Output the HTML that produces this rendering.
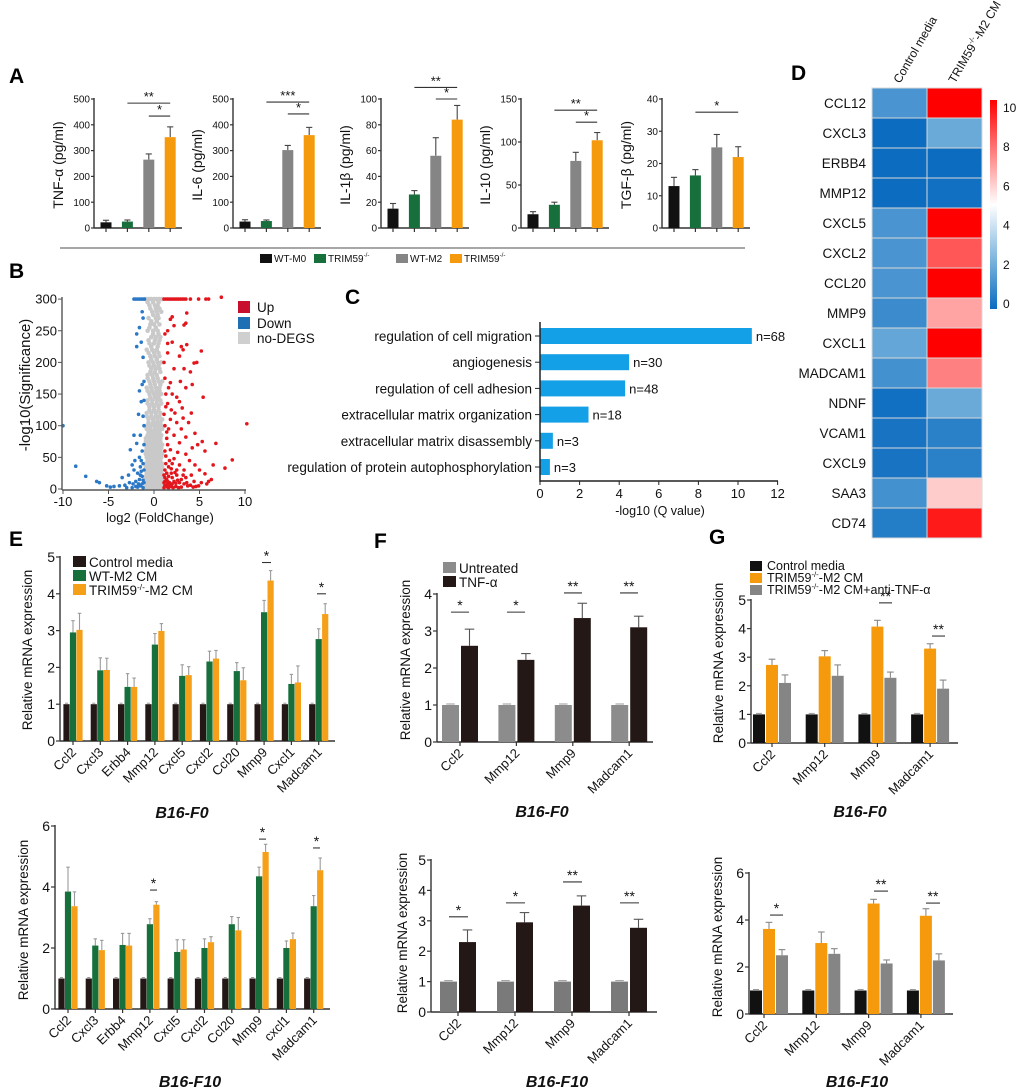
<!DOCTYPE html>
<html><head><meta charset="utf-8"><style>
html,body{margin:0;padding:0;background:#fff;}
svg{display:block;font-family:"Liberation Sans",Arial,sans-serif;}
</style></head><body>
<svg id="fig" width="1020" height="1092" viewBox="0 0 1020 1092" xmlns="http://www.w3.org/2000/svg">
<defs><linearGradient id="cbar" x1="0" y1="0" x2="0" y2="1"><stop offset="0" stop-color="#ff0000"/><stop offset="0.5" stop-color="#ffffff"/><stop offset="0.8" stop-color="#6aaad9"/><stop offset="1" stop-color="#0b6cc0"/></linearGradient></defs>
<g font-weight="bold" font-size="21" fill="#000">
<text x="9" y="83">A</text>
<text x="9" y="278">B</text>
<text x="345" y="304">C</text>
<text x="791" y="80">D</text>
<text x="9" y="546">E</text>
<text x="374" y="548">F</text>
<text x="709" y="544">G</text>
</g>
</svg>
<script>
// ---------- DATA ----------
const aTNF=[22,25,265,352], aTNFerr=[8,6,22,40];
const aIL6=[25,27,302,360], aIL6err=[7,4,18,30];
const aIL1b=[15,26,56,84], aIL1berr=[4,3,14,11];
const aIL10=[16,27,78,102], aIL10err=[3,3,10,9];
const aTGF=[13,16.3,25,22], aTGFerr=[2.7,1.8,4,3.2];
const aGroups=['WT-M0','TRIM59-/- -M0','WT-M2','TRIM59-/- -M2'];

const eCats=['Ccl2','Cxcl3','Erbb4','Mmp12','Cxcl5','Cxcl2','Ccl20','Mmp9','Cxcl1','Madcam1'];
const eCats2=['Ccl2','Cxcl3','Erbb4','Mmp12','Cxcl5','Cxcl2','Ccl20','Mmp9','cxcl1','Madcam1'];
const eF0ctrl=[1,1,1,1,1,1,1,1,1,1];
const eF0wt=[2.95,1.92,1.47,2.62,1.77,2.16,1.9,3.5,1.55,2.77];
const eF0wtErr=[0.32,0.34,0.36,0.3,0.3,0.28,0.23,0.32,0.26,0.28];
const eF0ko=[3.02,1.93,1.47,2.99,1.79,2.24,1.65,4.36,1.59,3.45];
const eF0koErr=[0.45,0.32,0.24,0.2,0.23,0.22,0.34,0.27,0.45,0.28];
const eF10ctrl=[1,1,1,1,1,1,1,1,1,1];
const eF10wt=[3.85,2.08,2.1,2.78,1.87,2.0,2.78,4.35,2.0,3.37];
const eF10wtErr=[0.8,0.22,0.38,0.18,0.4,0.3,0.25,0.3,0.23,0.35];
const eF10ko=[3.37,1.93,2.08,3.42,1.95,2.19,2.58,5.15,2.29,4.55];
const eF10koErr=[0.47,0.32,0.4,0.1,0.32,0.18,0.42,0.25,0.2,0.4];

const fCats=['Ccl2','Mmp12','Mmp9','Madcam1'];
const fF0un=[1,1,1,1], fF0tnf=[2.6,2.22,3.35,3.1], fF0tnfErr=[0.45,0.17,0.4,0.3];
const fF10un=[1,1,1,1], fF10tnf=[2.3,2.95,3.5,2.77], fF10tnfErr=[0.4,0.32,0.32,0.28];

const gF0ctrl=[1,1,1,1], gF0ko=[2.73,3.03,4.07,3.3], gF0koErr=[0.2,0.2,0.22,0.17];
const gF0anti=[2.1,2.35,2.28,1.9], gF0antiErr=[0.28,0.38,0.2,0.3];
const gF10ctrl=[1,1,1,1], gF10ko=[3.62,3.02,4.7,4.18], gF10koErr=[0.28,0.47,0.18,0.3];
const gF10anti=[2.5,2.56,2.15,2.28], gF10antiErr=[0.24,0.22,0.15,0.28];

const goTerms=['regulation of cell migration','angiogenesis','regulation of cell adhesion','extracellular matrix organization','extracellular matrix disassembly','regulation of protein autophosphorylation'];
const goQ=[10.7,4.5,4.3,2.45,0.65,0.5];
const goN=[68,30,48,18,3,3];

const hmGenes=['CCL12','CXCL3','ERBB4','MMP12','CXCL5','CXCL2','CCL20','MMP9','CXCL1','MADCAM1','NDNF','VCAM1','CXCL9','SAA3','CD74'];
const hmControl=[2,0,0,0,2,2,2,1.5,2.8,1.8,0.2,0.4,0.4,1.8,0.8];
const hmTrim=[10,3,0,0.2,10,8.3,10,6.8,10,7.5,3,1,1,6,9.5];
const cbTicks=[0,2,4,6,8,10];

const volUp=[[1.1,300],[1.3,300],[1.5,300],[1.7,300],[1.9,300],[2.1,300],[2.3,300],[2.5,300],[2.7,300],[2.9,300],[3.1,300],[3.3,300],[3.5,300],[4.0,300],[4.9,300],[5.7,300],[6.0,300],[7.4,303],
[2.0,272],[1.8,268],[3.6,278],[2.2,258],[3.5,262],[3.3,259],[1.5,250],[1.2,245],[3.0,225],[3.6,228],[1.5,230],[2.0,232],[3.2,220],[2.8,210],[5.2,218],[4.7,200],[4.4,199],[1.5,215],[2.2,190],[3.3,190],[4.0,185],[1.2,175],[1.8,168],[2.9,170],[4.2,165],[3.5,160],[1.3,150],[2.0,150],[2.5,145],[5.4,145],[1.5,135],[2.8,138],[3.1,128],[1.9,125],[4.1,120],[3.2,112],[1.1,118],[2.5,105],[3.8,105],[10.2,103],[1.6,95],[3.0,95],[2.2,85],[4.5,88],[1.4,80],[3.5,82],[2.8,73],[5.3,75],[6.8,72],[4.2,65],[1.8,62],[2.6,58],[4.8,70],[5.6,60],[3.5,55],[1.3,52],[2.2,48],[8.6,46],[3.9,45],[6.5,38],[2.8,38],[4.5,38],[7.8,33],[5.0,30],[1.6,35],[3.3,30],[1.9,25],[2.5,22],[4.1,22],[5.6,24],[6.3,15],[3.5,18],[1.2,18],[1.5,12],[2.2,12],[2.8,10],[3.3,8],[4.0,6],[4.6,4],[4.9,5],[5.2,10],[5.8,8],[6.0,12],[1.3,5],[1.8,6],[2.4,4],[3.0,3],[3.7,5],[1.1,2],[1.6,2],[2.1,2],[2.7,2],[4.3,3],[1.4,25],[2.0,40],[1.7,45],[1.2,60],[1.5,70],[1.2,100],[1.3,130],[1.6,160],[1.1,200],[1.8,110],[2.3,120],[1.4,90],[1.2,30],[1.5,8],[2.5,30],[3.0,15],[2.0,18],[1.1,10],[1.3,40],[1.2,12],[1.6,20],[2.0,8],[2.6,14],[3.2,22],[1.9,32],[1.4,15],[1.7,10],[2.3,26],[1.1,22],[1.2,6],[1.5,3],[1.9,4],[2.4,9],[3.6,10],[4.4,12]];
const volDown=[[-2.2,300],[-2.0,300],[-1.8,300],[-1.6,300],[-1.4,300],[-1.2,300],[-1.05,300],[-1.3,280],[-1.2,270],[-1.6,255],[-1.9,245],[-1.4,232],[-1.9,225],[-1.2,208],[-1.1,170],[-1.3,165],[-1.6,155],[-1.1,140],[-1.4,138],[-1.7,118],[-1.2,115],[-1.1,100],[-2.2,85],[-1.5,85],[-1.9,72],[-2.6,62],[-1.3,60],[-1.6,50],[-2.1,45],[-1.2,40],[-2.4,38],[-1.5,35],[-2.2,30],[-1.8,25],[-2.8,22],[-3.5,18],[-8.6,36],[-10,100],[-7.5,20],[-6.3,12],[-6.0,10],[-5.2,5],[-4.8,3],[-4.4,4],[-3.8,5],[-3.2,6],[-2.7,10],[-2.3,8],[-2.0,12],[-1.6,15],[-1.3,20],[-1.1,10],[-1.5,5],[-1.8,3],[-1.2,2],[-2.4,2],[-3.0,2],[-1.1,30],[-1.4,45],[-1.1,70],[-1.3,8],[-1.7,8],[-1.2,14],[-1.5,22],[-2.0,4],[-1.4,28]];
const volGreyRows=[[300,[-0.9,-0.6,-0.3,0,0.3,0.6,0.9]],[290,[-0.5,0.1,0.4]],[280,[-0.2,0.3,0.8]],[270,[-0.6,0.2,0.5]],[260,[-0.4,0,0.6]],[250,[-0.7,-0.1,0.4]],[240,[-0.3,0.2,0.7]],[230,[-0.5,0,0.5]],[220,[-0.8,-0.2,0.3]],[210,[-0.4,0.1,0.6]],[200,[-0.6,-0.1,0.4,0.8]],[190,[-0.3,0.2,0.6]],[180,[-0.7,-0.2,0.3]],[170,[-0.5,0,0.5,0.9]],[160,[-0.8,-0.3,0.2,0.6]],[150,[-0.5,0,0.4,0.8]],[140,[-0.7,-0.2,0.3,0.7]],[130,[-0.5,0,0.5]],[120,[-0.8,-0.3,0.2,0.7]],[110,[-0.6,-0.1,0.4,0.9]],[100,[-0.8,-0.4,0,0.4,0.8]],[90,[-0.6,-0.2,0.2,0.6]],[80,[-0.9,-0.5,-0.1,0.3,0.7]],[70,[-0.7,-0.3,0.1,0.5,0.9]],[60,[-0.9,-0.5,-0.1,0.3,0.7]],[50,[-0.8,-0.4,0,0.4,0.8]],[40,[-0.9,-0.5,-0.2,0.1,0.5,0.9]],[30,[-0.8,-0.4,0,0.4,0.8]],[20,[-0.9,-0.6,-0.3,0,0.3,0.6,0.9]],[10,[-0.8,-0.5,-0.2,0.1,0.4,0.7]],[3,[-0.9,-0.6,-0.3,0,0.3,0.6,0.9]]];
const volGreyRows2=[[295,[-0.7,-0.1,0.5]],[285,[-0.4,0.2,0.6]],[275,[-0.1,0.4]],[265,[-0.3,0.3]],[255,[-0.5,0.2]],[245,[-0.1,0.5]],[235,[-0.6,0.1,0.6]],[225,[-0.3,0.4]],[215,[-0.6,0,0.5]],[205,[-0.3,0.3]],[195,[-0.5,0,0.5]],[185,[-0.4,0.1,0.7]],[175,[-0.7,-0.1,0.4]],[165,[-0.4,0.1,0.7]],[155,[-0.7,-0.2,0.3,0.6]],[145,[-0.4,0.1,0.5]],[135,[-0.7,-0.2,0.3,0.8]],[125,[-0.5,0,0.5]],[115,[-0.8,-0.3,0.2,0.6]],[105,[-0.6,-0.1,0.3,0.7]],[95,[-0.8,-0.4,0.1,0.5,0.9]],[85,[-0.7,-0.3,0.1,0.5,0.8]],[75,[-0.9,-0.5,-0.1,0.3,0.7]],[65,[-0.8,-0.4,0,0.4,0.8]],[55,[-0.9,-0.6,-0.2,0.2,0.6,0.9]],[45,[-0.7,-0.3,0,0.3,0.7]],[35,[-0.9,-0.6,-0.2,0.2,0.6,0.9]],[25,[-0.8,-0.5,-0.1,0.2,0.5,0.8]],[15,[-0.9,-0.6,-0.3,0,0.3,0.6,0.9]],[6,[-0.8,-0.5,-0.2,0.1,0.4,0.7,0.95]]];

// ---------- HELPERS ----------
const NS='http://www.w3.org/2000/svg';
const svg=document.getElementById('fig');
function mk(tag,attrs,name,parent){
  const el=document.createElementNS(NS,tag);
  for(const k in attrs) el.setAttribute(k,attrs[k]);
  
  
  (parent||svg).appendChild(el);
  return el;
}
function txt(x,y,s,attrs,name,parent){
  const t=mk('text',Object.assign({x:x,y:y},attrs||{}),name,parent);
  t.textContent=s;
  return t;
}
function koText(x,y,pre,post,attrs,name,parent){
  const t=mk('text',Object.assign({x:x,y:y},attrs||{}),name,parent);
  t.appendChild(document.createTextNode(pre));
  const s=document.createElementNS(NS,'tspan');
  s.setAttribute('dy','-5');s.setAttribute('font-size','0.62em');s.textContent='-/-';
  t.appendChild(s);
  const s2=document.createElementNS(NS,'tspan');
  s2.setAttribute('dy','5');s2.textContent=post;
  t.appendChild(s2);
  return t;
}

function barChart(c){
  const g=mk('g',{},c.name);
  const sy=v=>c.y0-(v/c.max)*(c.y0-c.yTop);
  mk('line',{x1:c.ax,y1:c.yTop-1,x2:c.ax,y2:c.y0,stroke:'#333','stroke-width':1.4},'y-axis',g);
  mk('line',{x1:c.ax,y1:c.y0,x2:c.xEnd,y2:c.y0,stroke:'#333','stroke-width':1.4},'x-axis',g);
  c.ticks.forEach(t=>{
    mk('line',{x1:c.ax-c.tl,y1:sy(t),x2:c.ax,y2:sy(t),stroke:'#333','stroke-width':1.2},'y-tick',g);
    txt(c.ax-c.tl-1,sy(t)+c.tf*0.36,String(t),{'font-size':c.tf,'text-anchor':'end',fill:'#111'},'y-tick-label',g);
  });
  c.series.forEach((vals,s)=>{
    vals.forEach((v,i)=>{
      const cx=c.first+i*c.sp+c.off[s];
      const col=c.colorFn?c.colorFn(s,i):c.colors[s];
      const top=sy(v);
      const e=c.errs[s]?c.errs[s][i]:0;
      if(e>0){
        mk('line',{x1:cx,y1:top,x2:cx,y2:sy(v+e),stroke:c.errCol,'stroke-width':1.1},'error-bar',g);
        mk('line',{x1:cx-c.bw*0.28,y1:sy(v+e),x2:cx+c.bw*0.28,y2:sy(v+e),stroke:c.errCol,'stroke-width':1.1},'error-cap',g);
      } else {
        mk('line',{x1:cx-c.bw*0.25,y1:top-1,x2:cx+c.bw*0.25,y2:top-1,stroke:'#999','stroke-width':1},'error-cap',g);
      }
      mk('rect',{x:cx-c.bw/2,y:top,width:c.bw,height:c.y0-top,fill:col},'bar-'+(c.cats?c.cats[i]:i)+'-s'+s,g);
    });
  });
  const tickXs=c.tickXs||c.cats.map((_,i)=>c.first+i*c.sp+(c.tickOff||0));
  tickXs.forEach((x,i)=>{
    mk('line',{x1:x,y1:c.y0,x2:x,y2:c.y0+4,stroke:'#333','stroke-width':1.2},'x-tick',g);
    if(c.cats){
      const ly=c.y0+12;
      txt(x+4,ly,c.cats[i],{'font-size':c.cf,'text-anchor':'end',fill:'#111',transform:'rotate(-45 '+(x+4)+' '+ly+')'},'x-tick-label',g);
    }
  });
  (c.sig||[]).forEach(sg=>{
    const y=sy(sg.v);
    mk('line',{x1:sg.x1,y1:y,x2:sg.x2,y2:y,stroke:'#333','stroke-width':1.1},'significance-line',g);
    txt((sg.x1+sg.x2)/2,y-2,sg.t,{'font-size':c.sf||13,'text-anchor':'middle',fill:'#111'},'significance-stars',g);
  });
  txt(c.ylx,c.yly,c.ylabel,{'font-size':c.yf,'text-anchor':'middle',fill:'#111',transform:'rotate(-90 '+c.ylx+' '+c.yly+')'},'y-axis-title',g);
  if(c.title) txt(c.tx,c.ty,c.title,{'font-size':16,'font-weight':'bold','font-style':'italic','text-anchor':'middle',fill:'#111'},'cell-line-title',g);
  return g;
}

// ---------- PANEL A ----------
const aColors=['#111111','#17703c','#858585','#f59a0c'];
const aDefs=[
 {ax:94,vals:aTNF,err:aTNFerr,max:500,step:100,lab:'TNF-\u03b1  (pg/ml)',sig:[[1,3,484,'**'],[2,3,434,'*']]},
 {ax:233,vals:aIL6,err:aIL6err,max:500,step:100,lab:'IL-6 (pg/ml)',sig:[[1,3,488,'***'],[2,3,442,'*']]},
 {ax:381,vals:aIL1b,err:aIL1berr,max:100,step:20,lab:'IL-1\u03b2  (pg/ml)',sig:[[1,3,109,'**'],[2,3,100,'*']]},
 {ax:521,vals:aIL10,err:aIL10err,max:150,step:50,lab:'IL-10 (pg/ml)',sig:[[1,3,137,'**'],[2,3,123,'*']]},
 {ax:662,vals:aTGF,err:aTGFerr,max:40,step:10,lab:'TGF-\u03b2  (pg/ml)',sig:[[1,3,35.9,'*']]}
];
aDefs.forEach((d,k)=>{
  const ticks=[];for(let t=0;t<=d.max;t+=d.step)ticks.push(t);
  const first=d.ax+12, sp=21.4;
  barChart({name:'cytokine-chart-'+k,ax:d.ax,xEnd:d.ax+88,y0:228,yTop:99,max:d.max,ticks:ticks,tl:3,tf:10,
    series:[d.vals],errs:[d.err],colorFn:(s,i)=>aColors[i],errCol:'#444',first:first,sp:sp,off:[0],bw:11,
    tickXs:d.vals.map((_,i)=>first+i*sp),
    sig:d.sig.map(s=>({x1:first+s[0]*sp,x2:first+s[1]*sp,v:s[2],t:s[3]})),sf:13,
    ylabel:d.lab,ylx:d.ax-31,yly:165,yf:14});
});
mk('line',{x1:60,y1:248,x2:745,y2:248,stroke:'#8a8a8a','stroke-width':1.5},'panel-a-divider');
const aLegX=[260,314,396,450];
aGroups.forEach((gname,i)=>{
  mk('rect',{x:aLegX[i],y:254,width:12,height:9,fill:aColors[i]},'legend-swatch');
  if(gname.indexOf('TRIM')===0) koText(aLegX[i]+14,262,'TRIM59',gname.slice(13),{'font-size':10,fill:'#111'},'legend-entry');
  else txt(aLegX[i]+14,262,gname,{'font-size':10,fill:'#111'},'legend-entry');
});

// ---------- PANEL B (volcano) ----------
(function(){
  const g=mk('g',{},'volcano-plot');
  const sx=v=>154+9.1*v, sy=v=>489-0.633*v;
  volGreyRows.concat(volGreyRows2).forEach(r=>r[1].forEach(fc=>{
    mk('circle',{cx:sx(fc),cy:sy(r[0]),r:2.3,fill:'#c9c9c9'},'point-no-deg',g);
  }));
  volDown.forEach(p=>{ mk('circle',{cx:sx(p[0]),cy:sy(p[1]),r:1.8,fill:'#2a78c6'},'point-down',g); });
  volUp.forEach(p=>{ mk('circle',{cx:sx(p[0]),cy:sy(p[1]),r:1.8,fill:'#e3161e'},'point-up',g); });
  mk('line',{x1:62,y1:297,x2:62,y2:490,stroke:'#555','stroke-width':1.4},'y-axis',g);
  mk('line',{x1:62,y1:490,x2:246,y2:490,stroke:'#555','stroke-width':1.4},'x-axis',g);
  for(let t=0;t<=300;t+=50){
    mk('line',{x1:58,y1:sy(t),x2:62,y2:sy(t),stroke:'#555'},'y-tick',g);
    txt(57,sy(t)+4.5,String(t),{'font-size':13,'text-anchor':'end',fill:'#111'},'y-tick-label',g);
  }
  for(let t=-10;t<=10;t+=5){
    mk('line',{x1:sx(t),y1:490,x2:sx(t),y2:494,stroke:'#555'},'x-tick',g);
    txt(sx(t),506,String(t),{'font-size':13,'text-anchor':'middle',fill:'#111'},'x-tick-label',g);
  }
  txt(160,522,'log2 (FoldChange)',{'font-size':13,'text-anchor':'middle',fill:'#111'},'x-axis-title',g);
  txt(30,385,'-log10(Significance)',{'font-size':15,'text-anchor':'middle',fill:'#111',transform:'rotate(-90 30 385)'},'y-axis-title',g);
  [['Up','#c8102e',307],['Down','#1f6fb5',323],['no-DEGS','#cfcfcf',338]].forEach(l=>{
    mk('rect',{x:238,y:l[2]-6,width:12,height:12,fill:l[1]},'legend-swatch',g);
    txt(257,l[2]+5,l[0],{'font-size':13.5,fill:'#111'},'legend-entry',g);
  });
})();

// ---------- PANEL C (GO bars) ----------
(function(){
  const g=mk('g',{},'go-enrichment-chart');
  const sx=v=>540+19.8*v;
  goTerms.forEach((t,i)=>{
    const cy=336+i*26.2;
    mk('rect',{x:540,y:cy-8,width:sx(goQ[i])-540,height:16,fill:'#13a0e6'},'bar-'+i,g);
    mk('line',{x1:535,y1:cy,x2:540,y2:cy,stroke:'#222'},'y-tick',g);
    txt(532,cy+5,t,{'font-size':13.5,'text-anchor':'end',fill:'#111'},'category-label',g);
    txt(sx(goQ[i])+4,cy+5,'n='+goN[i],{'font-size':13,fill:'#111'},'count-label',g);
  });
  mk('line',{x1:540,y1:322,x2:540,y2:482,stroke:'#222','stroke-width':1.5},'y-axis',g);
  mk('line',{x1:540,y1:481,x2:778,y2:481,stroke:'#222','stroke-width':1.5},'x-axis',g);
  for(let t=0;t<=12;t+=2){
    mk('line',{x1:sx(t),y1:481,x2:sx(t),y2:485,stroke:'#222'},'x-tick',g);
    txt(sx(t),498,String(t),{'font-size':13,'text-anchor':'middle',fill:'#111'},'x-tick-label',g);
  }
  txt(660,515,'-log10 (Q value)',{'font-size':12.5,'text-anchor':'middle',fill:'#111'},'x-axis-title',g);
})();

// ---------- PANEL D (heatmap) ----------
function hmColor(v){
  const lerp=(a,b,t)=>a.map((x,i)=>Math.round(x+(b[i]-x)*t));
  let c;
  if(v<=3) c=lerp([11,108,192],[106,170,217],v/3);
  else if(v<=5) c=lerp([106,170,217],[255,255,255],(v-3)/2);
  else c=lerp([255,255,255],[255,0,0],(v-5)/5);
  return 'rgb('+c.join(',')+')';
}
(function(){
  const g=mk('g',{},'heatmap');
  hmGenes.forEach((gn,i)=>{
    const y=88+i*30;
    mk('rect',{x:872,y:y,width:55,height:30,fill:hmColor(hmControl[i]),stroke:'#d8d8d8','stroke-width':1},'cell-control-'+gn,g);
    mk('rect',{x:927,y:y,width:55,height:30,fill:hmColor(hmTrim[i]),stroke:'#d8d8d8','stroke-width':1},'cell-trim59-'+gn,g);
    txt(866,y+20,gn,{'font-size':13.5,'text-anchor':'end',fill:'#111'},'row-label',g);
  });
  txt(900,84,'Control media',{'font-size':12,fill:'#111',transform:'rotate(-60 900 84)'},'column-label',g);
  koText(955,84,'TRIM59','-M2 CM',{'font-size':12,fill:'#111',transform:'rotate(-60 955 84)'},'column-label',g);
  mk('rect',{x:990,y:100,width:7,height:209,fill:'url(#cbar)'},'colorbar',g);
  cbTicks.forEach(t=>{
    txt(1003,303-t*19.6+5,String(t),{'font-size':12,fill:'#111'},'colorbar-label',g);
  });
})();

// ---------- PANEL E ----------
const eColors=['#231815','#17703c','#f6a01a'];
barChart({name:'e-b16f0-chart',ax:60,xEnd:335,y0:741,yTop:557,max:5,ticks:[0,1,2,3,4,5],tl:4,tf:14,
  series:[eF0ctrl,eF0wt,eF0ko],errs:[null,eF0wtErr,eF0koErr],colors:eColors,errCol:'#9a9a9a',
  first:73,sp:27.3,off:[-6.5,0,6.5],bw:6.2,cats:eCats,cf:13,
  sig:[{x1:262,x2:271,v:4.85,t:'*'},{x1:317,x2:326,v:4.0,t:'*'}],sf:14,
  ylabel:'Relative mRNA expression',ylx:32,yly:650,yf:13.5,title:'B16-F0',tx:182,ty:818});
[['Control media',562],['WT-M2 CM',576],['TRIM59',590]].forEach((l,i)=>{
  mk('rect',{x:73,y:l[1]-6,width:13,height:11,fill:eColors[i]},'legend-swatch');
  if(i===2) koText(89,l[1]+5,'TRIM59','-M2 CM',{'font-size':13.5,fill:'#111'},'legend-entry');
  else txt(89,l[1]+5,l[0],{'font-size':13.5,fill:'#111'},'legend-entry');
});
barChart({name:'e-b16f10-chart',ax:55,xEnd:330,y0:1009,yTop:826,max:6,ticks:[0,2,4,6],tl:4,tf:14,
  series:[eF10ctrl,eF10wt,eF10ko],errs:[null,eF10wtErr,eF10koErr],colors:eColors,errCol:'#9a9a9a',
  first:68,sp:27.3,off:[-6.5,0,6.5],bw:6.2,cats:eCats2,cf:13,
  sig:[{x1:150,x2:157,v:3.9,t:'*'},{x1:259,x2:266,v:5.57,t:'*'},{x1:313,x2:320,v:5.28,t:'*'}],sf:14,
  ylabel:'Relative mRNA expression',ylx:28,yly:920,yf:13.5,title:'B16-F10',tx:190,ty:1087});

// ---------- PANEL F ----------
const fColors=['#8c8c8c','#231815'];
barChart({name:'f-b16f0-chart',ax:437,xEnd:653,y0:742,yTop:594,max:4,ticks:[0,1,2,3,4],tl:4,tf:14,
  series:[fF0un,fF0tnf],errs:[null,fF0tnfErr],colors:fColors,errCol:'#555',
  first:460,sp:56.4,off:[-9.5,9.5],bw:17,cats:fCats,cf:13,
  sig:[{x1:451,x2:469,v:3.51,t:'*'},{x1:507,x2:525,v:3.51,t:'*'},{x1:564,x2:582,v:4.03,t:'**'},{x1:620,x2:638,v:4.03,t:'**'}],sf:14,
  ylabel:'Relative mRNA expression',ylx:410,yly:660,yf:13.5,title:'B16-F0',tx:542,ty:817});
[['Untreated',568],['TNF-\u03b1',582]].forEach((l,i)=>{
  mk('rect',{x:443,y:l[1]-6,width:13,height:11,fill:fColors[i]},'legend-swatch');
  txt(459,l[1]+5,l[0],{'font-size':13.5,fill:'#111'},'legend-entry');
});
barChart({name:'f-b16f10-chart',ax:431,xEnd:657,y0:1012,yTop:860,max:5,ticks:[0,1,2,3,4,5],tl:4,tf:14,
  series:[fF10un,fF10tnf],errs:[null,fF10tnfErr],colors:['#7a7a7a','#231815'],errCol:'#555',
  first:458,sp:57,off:[-9.5,9.5],bw:17,cats:fCats,cf:13,
  sig:[{x1:449,x2:468,v:3.13,t:'*'},{x1:506,x2:525,v:3.59,t:'*'},{x1:563,x2:582,v:4.28,t:'**'},{x1:620,x2:639,v:3.59,t:'**'}],sf:14,
  ylabel:'Relative mRNA expression',ylx:407,yly:933,yf:13.5,title:'B16-F10',tx:557,ty:1087});

// ---------- PANEL G ----------
const gColors=['#111111','#f59a0c','#858585'];
barChart({name:'g-b16f0-chart',ax:751,xEnd:958,y0:743,yTop:600,max:5,ticks:[0,1,2,3,4,5],tl:4,tf:14,
  series:[gF0ctrl,gF0ko,gF0anti],errs:[null,gF0koErr,gF0antiErr],colors:gColors,errCol:'#888',
  first:772,sp:52.7,off:[-13,0,13],bw:12,cats:fCats,cf:13,
  sig:[{x1:879,x2:892,v:4.9,t:'**'},{x1:932,x2:945,v:3.74,t:'**'}],sf:14,
  ylabel:'Relative mRNA expression',ylx:723,yly:663,yf:13.5,title:'B16-F0',tx:860,ty:817});
[['Control media',566],['',578],['',590]].forEach((l,i)=>{
  mk('rect',{x:750,y:l[1]-5,width:12,height:10,fill:gColors[i]},'legend-swatch');
  if(i===0) txt(767,l[1]+4,l[0],{'font-size':12.5,fill:'#111'},'legend-entry');
  else koText(767,l[1]+4,'TRIM59',i===1?'-M2 CM':'-M2 CM+anti-TNF-\u03b1',{'font-size':12.5,fill:'#111'},'legend-entry');
});
barChart({name:'g-b16f10-chart',ax:749,xEnd:953,y0:1014,yTop:873,max:6,ticks:[0,2,4,6],tl:4,tf:14,
  series:[gF10ctrl,gF10ko,gF10anti],errs:[null,gF10koErr,gF10antiErr],colors:gColors,errCol:'#888',
  first:769,sp:52.3,off:[-13,0,13],bw:12,cats:fCats,cf:13,tickOff:-5,
  sig:[{x1:770,x2:783,v:4.21,t:'*'},{x1:874,x2:888,v:5.23,t:'**'},{x1:926,x2:940,v:4.72,t:'**'}],sf:14,
  ylabel:'Relative mRNA expression',ylx:722,yly:937,yf:13.5,title:'B16-F10',tx:857,ty:1087});
</script>
</body></html>
